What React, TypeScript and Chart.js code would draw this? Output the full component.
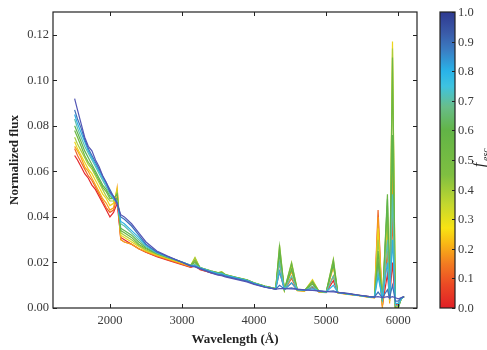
import React, { useEffect, useRef } from "react";
import { Chart, registerables } from "chart.js";

Chart.register(...registerables);

const WAVELENGTH = [1510,1550,1600,1650,1700,1750,1800,1850,1900,1950,2000,2050,2100,2150,2200,2300,2400,2500,2650,2800,3000,3120,3180,3250,3400,3500,3550,3600,3750,3900,4000,4150,4300,4353,4420,4520,4600,4700,4810,4900,5000,5100,5160,5300,5450,5600,5670,5720,5780,5850,5880,5920,5960,6000,6040,6080];

const F_VALUES = [0.0, 0.1, 0.2, 0.3, 0.4, 0.5, 0.6, 0.7, 0.8, 0.9, 1.0];

const FLUX_F00 = [0.067,0.065,0.062,0.059,0.057,0.054,0.052,0.049,0.046,0.043,
  0.040,0.042,0.046,0.031,0.030,0.028,0.026,0.0245,
  0.0225,0.021,0.019,0.0178,0.0185,0.0168,0.0155,0.0147,0.0145,0.014,0.013,0.012,
  0.0108,0.0095,0.0085,0.016,0.0082,0.011,0.0078,0.0076,0.009,0.0072,
  0.007,0.012,0.0068,0.0062,0.0056,0.005,0.0048,0.02,0.001,0.015,
  0.004,0.02,0.001,0.002,0.004,0.005];
const FLUX_F01 = [0.070,0.067,0.064,0.061,0.058,0.056,0.053,0.050,0.047,0.044,
  0.042,0.043,0.049,0.030,0.029,0.028,0.026,0.0245,
  0.0228,0.0212,0.0193,0.018,0.019,0.017,0.0155,0.0148,0.0146,0.014,0.013,0.012,
  0.0107,0.0094,0.0083,0.02,0.008,0.013,0.0077,0.0075,0.0095,0.0071,
  0.0069,0.014,0.0067,0.0061,0.0055,0.0048,0.0046,0.043,0.001,0.025,
  0.003,0.04,0.0,0.001,0.004,0.005];
const FLUX_F02 = [0.071,0.069,0.066,0.062,0.060,0.057,0.054,0.051,0.048,0.046,
  0.043,0.044,0.053,0.030,0.029,0.028,0.026,0.0248,
  0.023,0.0215,0.0195,0.0182,0.0205,0.0172,0.0157,0.015,0.0152,0.0142,0.0132,0.0121,
  0.0108,0.0094,0.0082,0.024,0.0078,0.016,0.0076,0.0074,0.011,0.007,
  0.0068,0.018,0.0066,0.006,0.0054,0.0047,0.0045,0.04,0.0,0.035,
  0.002,0.06,0.0,0.001,0.004,0.005];
const FLUX_F03 = [0.073,0.070,0.067,0.064,0.061,0.059,0.056,0.053,0.050,0.048,
  0.045,0.046,0.052,0.032,0.031,0.029,0.027,0.0252,
  0.0233,0.0218,0.0198,0.0185,0.022,0.0175,0.016,0.0153,0.0158,0.0145,0.0134,0.0123,
  0.011,0.0095,0.0084,0.025,0.0078,0.018,0.0077,0.0075,0.0125,0.0072,
  0.0069,0.019,0.0067,0.0061,0.0055,0.0048,0.0046,0.035,0.002,0.04,
  0.003,0.117,0.0,0.001,0.004,0.005];
const FLUX_F04 = [0.075,0.072,0.069,0.066,0.063,0.061,0.058,0.055,0.052,0.049,
  0.047,0.047,0.051,0.033,0.032,0.030,0.0275,0.0255,
  0.0236,0.022,0.02,0.0187,0.0222,0.0177,0.0162,0.0155,0.016,0.0147,0.0135,0.0124,
  0.0111,0.0096,0.0085,0.0277,0.0079,0.020,0.0078,0.0076,0.012,0.0073,
  0.007,0.0215,0.0068,0.0062,0.0056,0.0049,0.0047,0.03,0.003,0.045,
  0.004,0.114,0.001,0.001,0.004,0.005];
const FLUX_F05 = [0.078,0.075,0.071,0.067,0.064,0.062,0.059,0.056,0.053,0.051,
  0.048,0.048,0.050,0.034,0.033,0.031,0.028,0.026,
  0.0238,0.0222,0.0202,0.0188,0.021,0.0178,0.0163,0.0155,0.0157,0.0147,0.0135,0.0124,
  0.0111,0.0096,0.0085,0.027,0.008,0.0195,0.0079,0.0077,0.0115,0.0073,
  0.007,0.021,0.0068,0.0062,0.0056,0.0049,0.0047,0.025,0.003,0.050,
  0.004,0.110,0.0,0.0,0.004,0.005];
const FLUX_F06 = [0.080,0.077,0.073,0.069,0.066,0.063,0.060,0.057,0.054,0.052,
  0.049,0.048,0.048,0.035,0.034,0.032,0.029,0.0265,
  0.024,0.0223,0.0202,0.0188,0.02,0.0178,0.0162,0.0154,0.0154,0.0146,0.0134,0.0123,
  0.011,0.0095,0.0084,0.024,0.008,0.017,0.0079,0.0077,0.0105,0.0073,
  0.007,0.019,0.0068,0.0062,0.0055,0.0049,0.0047,0.02,0.003,0.048,
  0.004,0.076,0.0,0.0,0.004,0.005];
const FLUX_F07 = [0.083,0.079,0.075,0.071,0.068,0.065,0.062,0.059,0.056,0.053,
  0.050,0.048,0.047,0.037,0.036,0.033,0.030,0.027,
  0.0242,0.0224,0.0202,0.0187,0.019,0.0177,0.0161,0.0152,0.0152,0.0145,0.0133,0.0122,
  0.0109,0.0094,0.0084,0.020,0.0081,0.014,0.008,0.0077,0.0095,0.0073,
  0.007,0.014,0.0068,0.0062,0.0055,0.0049,0.0047,0.016,0.004,0.03,
  0.004,0.05,0.001,0.001,0.004,0.005];
const FLUX_F08 = [0.085,0.081,0.077,0.073,0.069,0.066,0.063,0.060,0.057,0.054,
  0.051,0.048,0.046,0.038,0.037,0.034,0.031,0.0275,
  0.0244,0.0225,0.0202,0.0186,0.0186,0.0176,0.016,0.015,0.015,0.0143,0.0132,0.0121,
  0.0108,0.0093,0.0083,0.016,0.0082,0.011,0.0081,0.0078,0.0085,0.0074,
  0.0071,0.010,0.0068,0.0062,0.0055,0.0049,0.0047,0.014,0.004,0.02,
  0.004,0.03,0.002,0.002,0.004,0.005];
const FLUX_F09 = [0.087,0.083,0.079,0.074,0.070,0.067,0.064,0.061,0.058,0.055,
  0.052,0.049,0.046,0.040,0.039,0.036,0.032,0.028,
  0.0246,0.0226,0.0201,0.0185,0.0183,0.0174,0.0157,0.0147,0.0146,0.014,0.0129,0.0118,
  0.0106,0.0092,0.0083,0.010,0.0084,0.0088,0.0082,0.0079,0.0078,0.0075,
  0.0072,0.0075,0.0069,0.0063,0.0056,0.005,0.0048,0.007,0.0045,0.008,
  0.0045,0.01,0.003,0.003,0.0045,0.005];
const FLUX_F10 = [0.092,0.087,0.081,0.075,0.071,0.069,0.065,0.062,0.058,0.055,
  0.051,0.049,0.046,0.041,0.040,0.037,0.033,0.029,
  0.025,0.0228,0.0201,0.0184,0.018,0.0172,0.0154,0.0144,0.0142,0.0137,0.0126,0.0115,
  0.0104,0.0091,0.0083,0.0085,0.0085,0.0084,0.0083,0.008,0.0077,0.0075,
  0.0072,0.0071,0.0069,0.0064,0.0057,0.005,0.0048,0.005,0.0046,0.005,
  0.0046,0.005,0.0045,0.004,0.0045,0.005];

const FLUX_SERIES = [FLUX_F00, FLUX_F01, FLUX_F02, FLUX_F03, FLUX_F04, FLUX_F05, FLUX_F06, FLUX_F07, FLUX_F08, FLUX_F09, FLUX_F10];

const X_TICKS = [2000, 3000, 4000, 5000, 6000];
const Y_TICKS = [0, 0.02, 0.04, 0.06, 0.08, 0.1, 0.12];
const CB_TICKS = [0, 0.1, 0.2, 0.3, 0.4, 0.5, 0.6, 0.7, 0.8, 0.9, 1.0];

const LINE_COLORS = ["#e4262b", "#ee6424", "#f6a01d", "#ecd51c", "#a8cc3a", "#6cb644", "#5fb54c", "#5cbfae", "#2fb2e3", "#3b6fba", "#5255b4"];

const CB_STOPS: [number, string][] = [
  [0.0, "#e01f26"], [0.08, "#ec4a24"], [0.15, "#f27c21"], [0.22, "#f9ba15"],
  [0.27, "#f8e313"], [0.35, "#c4d82e"], [0.45, "#7fbf41"], [0.6, "#62b446"],
  [0.68, "#68bd8a"], [0.75, "#3ec3e0"], [0.8, "#29b3e8"], [0.87, "#3a7ec4"],
  [0.93, "#3a5aa8"], [1.0, "#2e3990"],
];

const SERIF = "'Liberation Serif', 'DejaVu Serif', serif";

const framePlugin = {
  id: "frameAndColorbar",
  afterDraw(chart: any) {
    const { ctx, chartArea } = chart;
    const { left, right, top, bottom } = chartArea;
    const xs = chart.scales.x;
    const ys = chart.scales.y;
    ctx.save();
    ctx.strokeStyle = "#222";
    ctx.lineWidth = 1.2;
    ctx.strokeRect(left, top, right - left, bottom - top);
    ctx.lineWidth = 1;
    ctx.beginPath();
    for (const v of X_TICKS) {
      const px = Math.round(xs.getPixelForValue(v)) + 0.5;
      ctx.moveTo(px, bottom); ctx.lineTo(px, bottom - 4);
      ctx.moveTo(px, top); ctx.lineTo(px, top + 4);
    }
    for (const v of Y_TICKS) {
      const py = Math.round(ys.getPixelForValue(v)) + 0.5;
      ctx.moveTo(left, py); ctx.lineTo(left + 4, py);
      ctx.moveTo(right, py); ctx.lineTo(right - 4, py);
    }
    ctx.stroke();

    // colorbar
    const cbL = 440, cbR = 455;
    const grad = ctx.createLinearGradient(0, bottom, 0, top);
    for (const [s, c] of CB_STOPS) grad.addColorStop(s, c);
    ctx.fillStyle = grad;
    ctx.fillRect(cbL, top, cbR - cbL, bottom - top);
    ctx.strokeStyle = "#222";
    ctx.lineWidth = 1.2;
    ctx.strokeRect(cbL, top, cbR - cbL, bottom - top);
    ctx.lineWidth = 1;
    ctx.fillStyle = "#3a3a3a";
    ctx.font = `12.5px ${SERIF}`;
    ctx.textAlign = "left";
    ctx.textBaseline = "middle";
    ctx.beginPath();
    for (const v of CB_TICKS) {
      const py = Math.round(bottom - v * (bottom - top)) + 0.5;
      ctx.moveTo(cbR, py); ctx.lineTo(cbR - 3, py);
      ctx.fillText(v.toFixed(1), cbR + 3, py);
    }
    ctx.stroke();

    // colorbar label
    ctx.translate(487, 165);
    ctx.rotate(-Math.PI / 2);
    ctx.textAlign = "center";
    ctx.textBaseline = "alphabetic";
    ctx.fillStyle = "#222";
    ctx.font = `italic 16px ${SERIF}`;
    ctx.fillText("f", 0, -3);
    ctx.font = `italic 10px ${SERIF}`;
    ctx.textAlign = "left";
    ctx.fillText("esc", 4, 2);
    ctx.restore();
  },
};

export default function App() {
  const ref = useRef<HTMLCanvasElement | null>(null);
  useEffect(() => {
    document.body.style.margin = "0";
    const canvas = ref.current;
    if (!canvas) return;
    const n = FLUX_SERIES.length;
    const datasets = FLUX_SERIES.map((arr, i) => ({
      label: `f = ${F_VALUES[i].toFixed(1)}`,
      data: WAVELENGTH.map((w, j) => ({ x: w, y: arr[j] })),
      borderColor: LINE_COLORS[i],
      borderWidth: 1.2,
      pointRadius: 0,
      tension: 0,
      fill: false,
      order: n - i,
    }));
    const chart = new Chart(canvas, {
      type: "line",
      data: { datasets },
      options: {
        animation: false,
        responsive: false,
        maintainAspectRatio: false,
        layout: { padding: { left: 0, right: 70, top: 12, bottom: 0 } },
        plugins: { legend: { display: false }, tooltip: { enabled: false } },
        scales: {
          x: {
            type: "linear",
            min: 1210,
            max: 6260,
            grid: { display: false, drawTicks: false },
            border: { display: false },
            afterBuildTicks: (s: any) => { s.ticks = X_TICKS.map((v) => ({ value: v })); },
            afterFit: (s: any) => { s.height = 42; },
            ticks: {
              padding: 5,
              color: "#3a3a3a",
              font: { family: SERIF, size: 12.5 },
              callback: (v: any) => String(v),
              maxRotation: 0,
            },
            title: {
              display: true,
              text: "Wavelength (Å)",
              color: "#222",
              font: { family: SERIF, size: 13, weight: "bold" },
              padding: { top: 0, bottom: 3 },
            },
          },
          y: {
            type: "linear",
            min: 0,
            max: 0.13,
            grid: { display: false, drawTicks: false },
            border: { display: false },
            afterBuildTicks: (s: any) => { s.ticks = Y_TICKS.map((v) => ({ value: v })); },
            afterFit: (s: any) => { s.width = 53; },
            ticks: {
              padding: 4,
              color: "#3a3a3a",
              font: { family: SERIF, size: 12.5 },
              callback: (v: any) => Number(v).toFixed(2),
            },
            title: {
              display: true,
              text: "Normalized flux",
              color: "#222",
              font: { family: SERIF, size: 13, weight: "bold" },
              padding: { top: 7, bottom: 0 },
            },
          },
        },
      },
      plugins: [framePlugin],
    });
    return () => chart.destroy();
  }, []);
  return <canvas ref={ref} width={487} height={350} style={{ display: "block" }} />;
}
